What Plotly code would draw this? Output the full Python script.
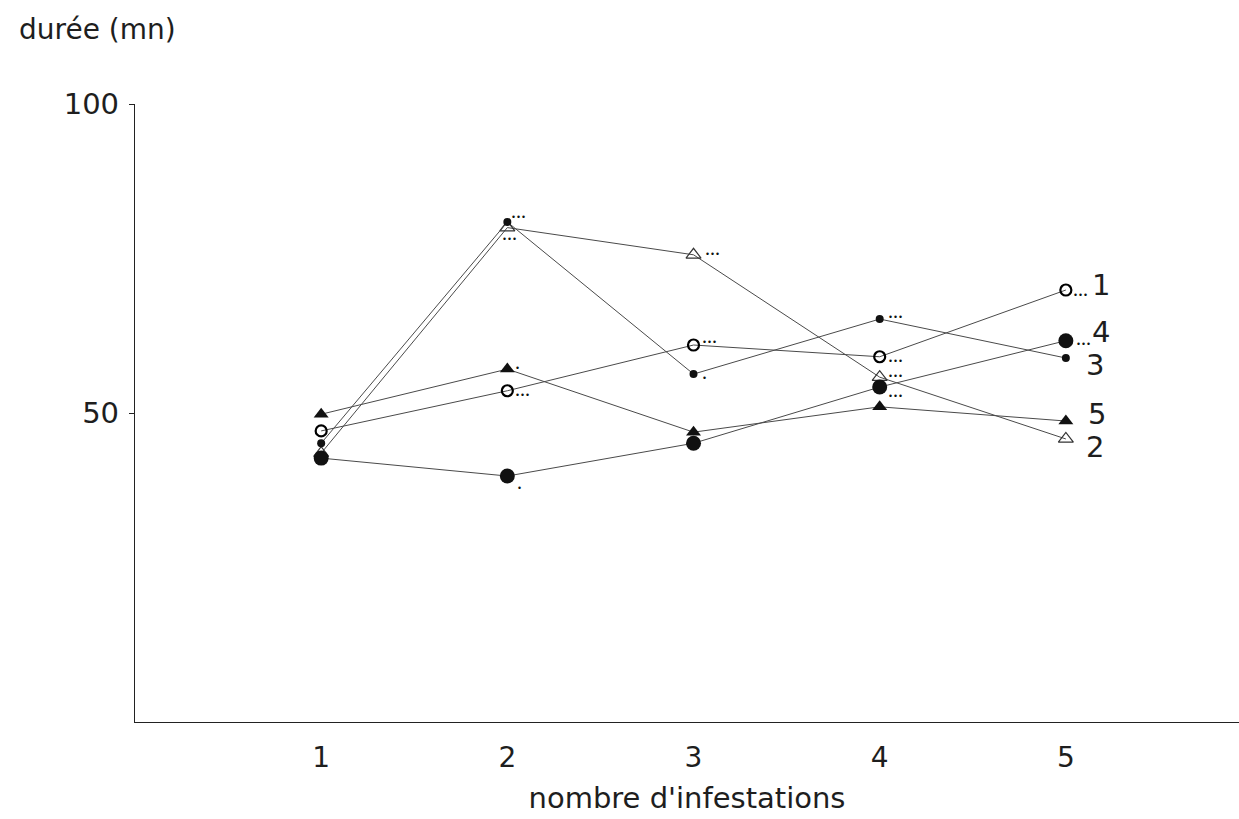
import plotly.graph_objects as go

x = [1, 2, 3, 4, 5]
s1 = [47.1, 53.6, 61.0, 59.1, 69.9]   # open circle
s2 = [43.5, 80.0, 75.6, 55.8, 45.8]   # open triangle
s3 = [45.1, 80.9, 56.3, 65.2, 58.9]   # small filled circle
s4 = [42.7, 39.8, 45.1, 54.2, 61.7]   # large filled circle
s5 = [49.8, 57.1, 46.9, 51.0, 48.7]   # filled triangle
labels = ["1", "2", "3", "4", "5"]

# significance marks per point
sig1 = ["", "•••", "•••", "•••", "•••"]
sig2 = ["", "•••", "•••", "•••", ""]
sig3 = ["", "•••", "•", "•••", ""]
sig4 = ["", "•", "", "•••", "•••"]
sig5 = ["", "•", "", "", ""]

FONT = "DejaVu Sans, Liberation Sans, sans-serif"
TXT = "#1e1e1e"
fig = go.Figure()
line = dict(color="#4a4a4a", width=1)
fig.add_trace(go.Scatter(x=x, y=s1, mode="lines+markers", line=line,
                         marker=dict(symbol="circle-open", size=11, color="black", line=dict(width=2.2))))
fig.add_trace(go.Scatter(x=x, y=s2, mode="lines+markers", line=line,
                         marker=dict(symbol="triangle-up-open", size=13, color="#333", line=dict(width=1.2))))
fig.add_trace(go.Scatter(x=x, y=s3, mode="lines+markers", line=line,
                         marker=dict(symbol="circle", size=8, color="#111")))
fig.add_trace(go.Scatter(x=x, y=s4, mode="lines+markers", line=line,
                         marker=dict(symbol="circle", size=15, color="#111")))
fig.add_trace(go.Scatter(x=x, y=s5, mode="lines+markers", line=line,
                         marker=dict(symbol="triangle-up", size=13, color="#111")))

ann = []
# per-point offsets (xshift, yshift) for the significance marks
off1 = [None, (6, -4), (6, 3), (6, -4), (5, -5)]
off2 = [None, (-7, -11), (9, 1), (6, 1), None]
off3 = [None, (2, 5), (6, -4), (6, 2), None]
off4 = [None, (8, -12), None, (6, -9), (8, -3)]
off5 = [None, (6, 1), None, None, None]

def sig(vals, marks, offs):
    for xi, v, m, o in zip(x, vals, marks, offs):
        if m:
            ann.append(dict(x=xi, y=v, text=m, showarrow=False, xanchor="left", yanchor="middle",
                            xshift=o[0], yshift=o[1], font=dict(family=FONT, size=8.5, color="#111")))
sig(s1, sig1, off1)
sig(s2, sig2, off2)
sig(s3, sig3, off3)
sig(s4, sig4, off4)
sig(s5, sig5, off5)

# end labels
for v, t, dx, dy in [(s1[4], "1", 24, 5), (s2[4], "2", 18, -8), (s3[4], "3", 18, -7),
                     (s4[4], "4", 24, 9), (s5[4], "5", 20, 7)]:
    ann.append(dict(x=5, y=v, text=t, showarrow=False, xanchor="left", yanchor="middle",
                    xshift=dx, yshift=dy, font=dict(family=FONT, size=29, color=TXT)))

ann.append(dict(xref="paper", yref="paper", x=-0.107, y=1.12, text="durée (mn)", showarrow=False,
                xanchor="left", yanchor="middle", font=dict(family=FONT, size=28, color=TXT)))

fig.update_layout(
    width=1239, height=819, plot_bgcolor="white", paper_bgcolor="white",
    margin=dict(l=135, r=0, t=104, b=97), showlegend=False,
    annotations=ann,
    xaxis=dict(range=[0, 5.93], tickvals=[1, 2, 3, 4, 5], ticktext=labels, showgrid=False, zeroline=False,
               showline=True, linecolor="#222", linewidth=1.3, ticks="", ticklen=0,
               ticklabelstandoff=10,
               tickfont=dict(family=FONT, size=28, color=TXT),
               title=dict(text="nombre d'infestations", font=dict(family=FONT, size=29, color=TXT), standoff=14)),
    yaxis=dict(range=[0, 100], tickvals=[50, 100], showgrid=False, zeroline=False,
               showline=True, linecolor="#222", linewidth=1.3, ticks="outside", ticklen=5, tickcolor="#222",
               ticklabelstandoff=4,
               tickfont=dict(family=FONT, size=29, color=TXT)),
)
fig.write_html("out.html")
